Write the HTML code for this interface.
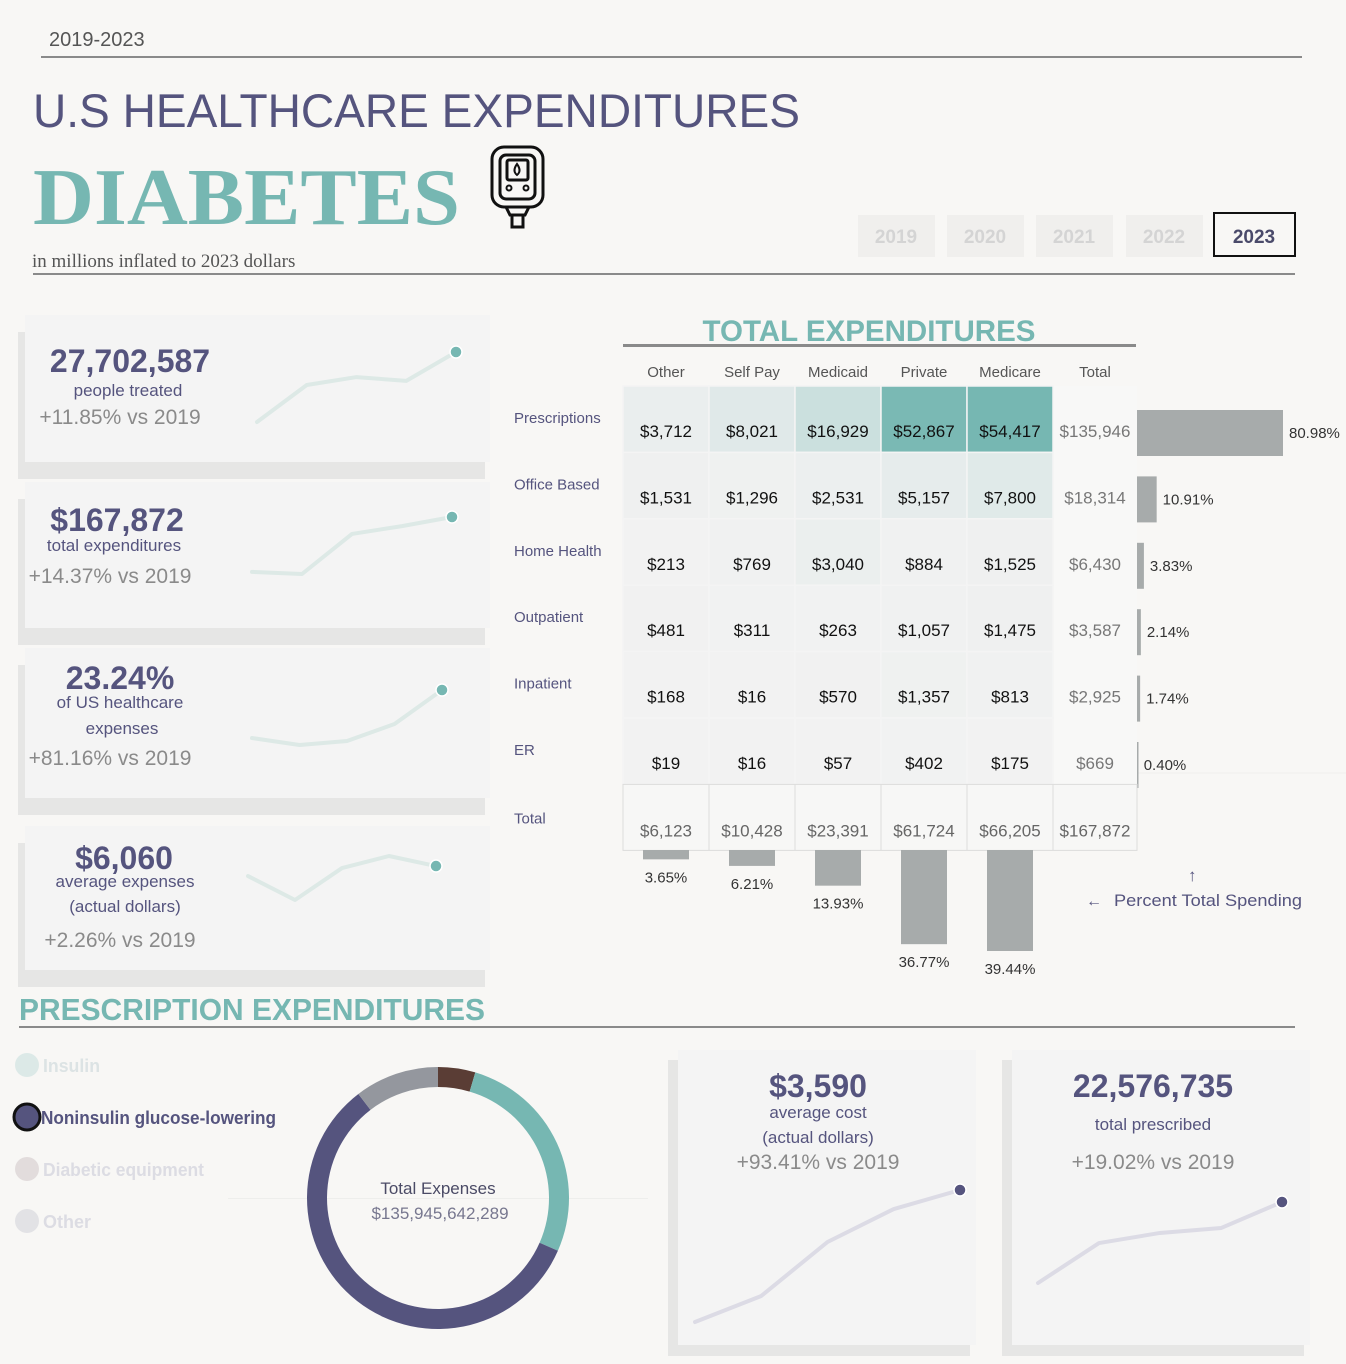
<!DOCTYPE html>
<html><head><meta charset="utf-8"><style>
html,body{margin:0;padding:0;background:#f8f7f5;}
svg{display:block;font-family:"Liberation Sans",sans-serif;}
</style></head><body>
<svg id="dash" width="1346" height="1364" viewBox="0 0 1346 1364" xmlns="http://www.w3.org/2000/svg">
<rect x="0" y="0" width="1346" height="1364" fill="#f8f7f5"/>
<text x="49" y="46" font-size="20" fill="#555">2019-2023</text>
<rect x="41" y="56" width="1261" height="2" fill="#8a8a8a"/>
<text x="33" y="127" font-size="47" fill="#55547e" textLength="767" lengthAdjust="spacingAndGlyphs">U.S HEALTHCARE EXPENDITURES</text>
<text x="33" y="224" font-size="80" font-weight="bold" fill="#76b7b2" font-family="Liberation Serif, serif" textLength="427" lengthAdjust="spacingAndGlyphs">DIABETES</text>
<g fill="none" stroke="#111" stroke-width="3">
<rect x="492" y="147" width="51" height="60" rx="12"/>
<rect x="500" y="155" width="35" height="44" rx="6"/>
<rect x="507" y="160" width="21" height="20" rx="2"/>
<path d="M517 164 q-5 7 0 11 q5 -4 0 -11z" stroke-width="2"/>
<circle cx="509" cy="188" r="2.5" stroke-width="2"/><circle cx="526" cy="188" r="2.5" stroke-width="2"/>
<path d="M506 207 l4 8 h15 l4 -8"/>
<rect x="512" y="215" width="11" height="12"/>
</g>
<text x="32" y="267" font-size="19" fill="#555" font-family="Liberation Serif, serif">in millions inflated to 2023 dollars</text>
<rect x="33" y="273" width="1262" height="2" fill="#8a8a8a"/>
<g id="years"></g>
<g id="kpis"></g>
<g id="heat"></g>
<text x="1086" y="906" font-size="16" fill="#55547e">←</text>
<text x="1114" y="906" font-size="17" fill="#55547e" textLength="188" lengthAdjust="spacingAndGlyphs">Percent Total Spending</text>
<text x="1188" y="881" font-size="17" fill="#55547e">↑</text>
<text x="19" y="1020" font-size="31" font-weight="bold" fill="#76b7b2" textLength="466" lengthAdjust="spacingAndGlyphs">PRESCRIPTION EXPENDITURES</text>
<rect x="19" y="1026" width="1276" height="2" fill="#8a8a8a"/>
<rect x="228" y="1198" width="420" height="1" fill="#eeeeec"/>
<g id="legend"></g>
<g id="donut"></g>
<text x="438" y="1194" font-size="17" text-anchor="middle" fill="#4b4b66">Total Expenses</text>
<text x="440" y="1219" font-size="17" text-anchor="middle" fill="#77778f">$135,945,642,289</text>
<g id="bottomcards"></g>
</svg>
<script>
const NS='http://www.w3.org/2000/svg';
function mk(parent,tag,attrs,txt){const e=document.createElementNS(NS,tag);for(const k in attrs)e.setAttribute(k,attrs[k]);if(txt!==undefined)e.textContent=txt;parent.appendChild(e);return e;}

// ---- year selector ----
const years=['2019','2020','2021','2022','2023'];
const yearX=[858,947,1036,1126,1214];
const yg=document.getElementById('years');
years.forEach((y,i)=>{
  const sel=i===4;
  const r=mk(yg,'rect',{x:yearX[i],y:sel?213:215,width:sel?81:77,height:sel?43:42,fill:sel?'#f8f7f5':'#f0efed',stroke:sel?'#111':'none','stroke-width':2});
  
  
  const t=mk(yg,'text',{x:yearX[i]+(sel?40:38),y:243,'font-size':19,'font-weight':'bold','text-anchor':'middle',fill:sel?'#4a4a6a':'#d4d4d4'},y);
  
  
});

// ---- KPI cards ----
const spark1=[24.77,26.32,26.65,26.49,27.70];
const spark2=[146.8,146.0,161.4,164.4,167.9];
const spark3=[12.83,11.32,12.19,15.87,23.24];
const spark4=[5926,5606,6033,6194,6060];
const kg=document.getElementById('kpis');
const cards=[
 {top:315,bot:462,data:spark1,x0:257,x1:456,yb:422,yt:352,lines:[['27,702,587',130,372,32,'bold','#55547e'],['people treated',128,396,17,'normal','#55547e'],['+11.85% vs 2019',120,424,21,'normal','#8a8a8a']],name:'people-treated'},
 {top:482,bot:628,data:spark2,x0:252,x1:452,yb:574,yt:517,lines:[['$167,872',117,531,32,'bold','#55547e'],['total expenditures',114,551,17,'normal','#55547e'],['+14.37% vs 2019',110,583,21,'normal','#8a8a8a']],name:'total-expenditures'},
 {top:648,bot:798,data:spark3,x0:252,x1:442,yb:745,yt:690,lines:[['23.24%',120,689,32,'bold','#55547e'],['of US healthcare',120,708,17,'normal','#55547e'],['expenses',122,734,17,'normal','#55547e'],['+81.16% vs 2019',110,765,21,'normal','#8a8a8a']],name:'share-of-us-expenses'},
 {top:826,bot:970,data:spark4,x0:248,x1:436,yb:900,yt:856,lines:[['$6,060',124,869,32,'bold','#55547e'],['average expenses',125,887,17,'normal','#55547e'],['(actual dollars)',125,912,17,'normal','#55547e'],['+2.26% vs 2019',120,947,21,'normal','#8a8a8a']],name:'average-expenses'}
];
cards.forEach(c=>{
  const g=mk(kg,'g',{});
  
  
  mk(g,'rect',{x:18,y:c.top+17,width:467,height:c.bot-c.top,fill:'#e6e6e5'});
  mk(g,'rect',{x:25,y:c.top,width:465,height:c.bot-c.top,fill:'#f4f4f4'});
  c.lines.forEach(l=>{
    const t=mk(g,'text',{x:l[1],y:l[2],'font-size':l[3],'font-weight':l[4],fill:l[5],'text-anchor':'middle'},l[0]);
    
    
  });
  const mn=Math.min(...c.data),mx=Math.max(...c.data);
  const pts=c.data.map((v,i)=>[c.x0+(c.x1-c.x0)*i/(c.data.length-1),c.yb-(v-mn)/(mx-mn)*(c.yb-c.yt)]);
  const pl=mk(g,'polyline',{points:pts.map(p=>p.join(',')).join(' '),fill:'none',stroke:'#dde9e6','stroke-width':4,'stroke-linejoin':'round','stroke-linecap':'round'});
  
  
  const p=pts[pts.length-1];
  const d=mk(g,'circle',{cx:p[0],cy:p[1],r:6,fill:'#76b7b2',stroke:'#fff','stroke-width':1.5});
  
  
});

// ---- heatmap ----
const rowCats=['Prescriptions','Office Based','Home Health','Outpatient','Inpatient','ER'];
const colCats=['Other','Self Pay','Medicaid','Private','Medicare'];
const rowOther=[3712,1531,213,481,168,19];
const rowSelfPay=[8021,1296,769,311,16,16];
const rowMedicaid=[16929,2531,3040,263,570,57];
const rowPrivate=[52867,5157,884,1057,1357,402];
const rowMedicare=[54417,7800,1525,1475,813,175];
const rowTotals=[135946,18314,6430,3587,2925,669];
const rowPct=[80.98,10.91,3.83,2.14,1.74,0.40];
const colTotals=[6123,10428,23391,61724,66205];
const grandTotal=167872;
const colPct=[3.65,6.21,13.93,36.77,39.44];
const series=[rowOther,rowSelfPay,rowMedicaid,rowPrivate,rowMedicare];
const hg=document.getElementById('heat');
const colX=[623,709,795,881,967,1053,1137];
const rowY=i=>386+i*66.4;
const fmt=v=>'$'+v.toLocaleString('en-US');
const maxV=Math.max(...series.flat());
function heatCol(v){const t=v/maxV;const a=[242,242,242],b=[118,183,178];return 'rgb('+a.map((x,i)=>Math.round(x+(b[i]-x)*t)).join(',')+')';}
let tt=mk(hg,'text',{x:869,y:341,'font-size':30,'font-weight':'bold',fill:'#76b7b2','text-anchor':'middle',textLength:333,lengthAdjust:'spacingAndGlyphs'},'TOTAL EXPENDITURES');


mk(hg,'rect',{x:623,y:344,width:513,height:3,fill:'#8a8a8a'});
colCats.concat(['Total']).forEach((c,j)=>{
  const t=mk(hg,'text',{x:(colX[j]+colX[j+1])/2,y:377,'font-size':15,fill:'#555','text-anchor':'middle'},c);
  
  
});
mk(hg,'rect',{x:1053,y:386,width:84,height:398,fill:'#f8f8f7'});
mk(hg,'line',{x1:1137,y1:773,x2:1346,y2:773,stroke:'#efefed'});
const pxPctR=146/80.98, pxPctB=101/39.44;
rowCats.forEach((r,i)=>{
  const y=rowY(i);
  const lab=mk(hg,'text',{x:514,y:y+37,'font-size':15,fill:'#55547e'},r);
  
  
  series.forEach((s,j)=>{
    const cell=mk(hg,'rect',{x:colX[j],y:y,width:colX[j+1]-colX[j],height:66.4,fill:heatCol(s[i]),stroke:'#f4f4f4','stroke-width':1.5});
    
    
    const t=mk(hg,'text',{x:(colX[j]+colX[j+1])/2,y:y+51,'font-size':17,fill:'#111','text-anchor':'middle'},fmt(s[i]));
    
    
  });
  const tv=mk(hg,'text',{x:1095,y:y+51,'font-size':17,fill:'#777','text-anchor':'middle'},fmt(rowTotals[i]));
  
  
  const w=rowPct[i]*pxPctR;
  const bar=mk(hg,'rect',{x:1137,y:y+24,width:Math.max(w,1.5),height:46,fill:'#a7abab'});
  
  
  const bl=mk(hg,'text',{x:1137+w+6,y:y+52,'font-size':15,fill:'#333'},rowPct[i].toFixed(2)+'%');
  
  
});
const ty=rowY(6);
mk(hg,'rect',{x:623,y:ty,width:514,height:66,fill:'#f7f7f6',stroke:'#dcdcdc'});
let tl=mk(hg,'text',{x:514,y:ty+39,'font-size':15,fill:'#55547e'},'Total');


colTotals.concat([grandTotal]).forEach((v,j)=>{
  mk(hg,'line',{x1:colX[j+1],y1:ty,x2:colX[j+1],y2:ty+66,stroke:'#dcdcdc'});
  const t=mk(hg,'text',{x:(colX[j]+colX[j+1])/2,y:ty+52,'font-size':17,fill:'#666','text-anchor':'middle'},fmt(v));
  
  
});
colPct.forEach((p,j)=>{
  const cx=(colX[j]+colX[j+1])/2, h=p*pxPctB;
  const bar=mk(hg,'rect',{x:cx-23,y:850,width:46,height:h,fill:'#a7abab'});
  
  
  const t=mk(hg,'text',{x:cx,y:850+h+23,'font-size':15,fill:'#333','text-anchor':'middle'},p.toFixed(2)+'%');
  
  
});

// ---- legend ----
const drugCats=['Insulin','Noninsulin glucose-lowering','Diabetic equipment','Other'];
const lg=document.getElementById('legend');
const legFill=['#dce9e7','#55547e','#e2dcdc','#e2e2e5'];
const legText=['#dce3e4','#55547e','#dcdce3','#dcdce3'];
const legLen=[57,235,161,48];
drugCats.forEach((c,i)=>{
  const y=1065+i*52;
  const ci=mk(lg,'circle',{cx:27,cy:y,r:i===1?13:12,fill:legFill[i],stroke:i===1?'#111':'none','stroke-width':3});
  
  
  const t=mk(lg,'text',{x:i===1?41:43,y:y+7,'font-size':18,'font-weight':'bold',fill:legText[i],textLength:legLen[i],lengthAdjust:'spacingAndGlyphs'},c);
  
  
});

// ---- donut ----
const donutCats=['Diabetic equipment','Insulin','Noninsulin glucose-lowering','Other'];
const donutVals=[4.6,27.0,58.0,10.4];
const donutCols=['#5a3d35','#76b7b2','#55547e','#94979e'];
const dg=document.getElementById('donut');
const cx=438,cy=1198,R=131,r0=111;
const tot=donutVals.reduce((a,b)=>a+b,0);
let a0=0;
function pt(rad,ang){return [cx+rad*Math.sin(ang),cy-rad*Math.cos(ang)];}
donutVals.forEach((v,i)=>{
  const a1=a0+v/tot*2*Math.PI;
  const large=(a1-a0)>Math.PI?1:0;
  const p1=pt(R,a0),p2=pt(R,a1),p3=pt(r0,a1),p4=pt(r0,a0);
  const d=`M${p1} A${R},${R} 0 ${large} 1 ${p2} L${p3} A${r0},${r0} 0 ${large} 0 ${p4} Z`;
  const s=mk(dg,'path',{d:d,fill:donutCols[i]});
  
  
  a0=a1;
});

// ---- bottom cards ----
const sparkCost=[1856,2198,2907,3340,3590];
const sparkRx=[18.97,20.75,21.20,21.42,22.58];
const bg=document.getElementById('bottomcards');
const bcards=[
 {x:678,data:sparkCost,x0:695,x1:960,yb:1322,yt:1190,cx:818,lines:[['$3,590',1097,32,'bold','#55547e'],['average cost',1118,17,'normal','#55547e'],['(actual dollars)',1143,17,'normal','#55547e'],['+93.41% vs 2019',1169,21,'normal','#8a8a8a']],name:'average-cost'},
 {x:1012,data:sparkRx,x0:1038,x1:1282,yb:1283,yt:1202,cx:1153,lines:[['22,576,735',1097,32,'bold','#55547e'],['total prescribed',1130,17,'normal','#55547e'],['+19.02% vs 2019',1169,21,'normal','#8a8a8a']],name:'total-prescribed'}
];
bcards.forEach(c=>{
  const g=mk(bg,'g',{});
  
  
  mk(g,'rect',{x:c.x-10,y:1060,width:302,height:296,fill:'#e6e6e5'});
  mk(g,'rect',{x:c.x,y:1050,width:298,height:295,fill:'#f4f4f4'});
  c.lines.forEach(l=>{
    const t=mk(g,'text',{x:c.cx,y:l[1],'font-size':l[2],'font-weight':l[3],fill:l[4],'text-anchor':'middle'},l[0]);
    
    
  });
  const mn=Math.min(...c.data),mx=Math.max(...c.data);
  const pts=c.data.map((v,i)=>[c.x0+(c.x1-c.x0)*i/(c.data.length-1),c.yb-(v-mn)/(mx-mn)*(c.yb-c.yt)]);
  const pl=mk(g,'polyline',{points:pts.map(p=>p.join(',')).join(' '),fill:'none',stroke:'#dcdbe5','stroke-width':4,'stroke-linejoin':'round','stroke-linecap':'round'});
  
  
  const p=pts[pts.length-1];
  const d=mk(g,'circle',{cx:p[0],cy:p[1],r:6,fill:'#55547e',stroke:'#fff','stroke-width':1.5});
  
  
});
</script>
</body></html>
